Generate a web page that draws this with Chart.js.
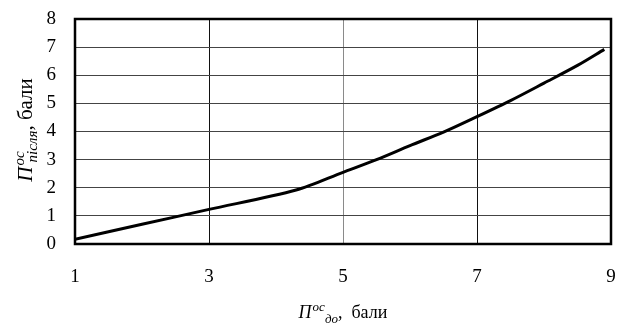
<!DOCTYPE html>
<html><head><meta charset="utf-8">
<script src="https://cdn.jsdelivr.net/npm/chart.js@4/dist/chart.umd.min.js"></script>
<style>html,body{margin:0;padding:0;background:#fff}#wrap{width:624px;height:324px}</style>
</head><body><div id="wrap"><canvas id="c" width="624" height="324"></canvas></div>
<script>
const xValues = [1, 2, 3, 4.3, 5, 5.5, 6, 6.5, 7, 7.5, 8, 8.5, 8.9];
const yValues = [0.17, 0.7, 1.23, 1.92, 2.55, 3.0, 3.5, 3.98, 4.53, 5.1, 5.72, 6.35, 6.92];
const xTicks = [1, 3, 5, 7, 9];
const yTicks = [0, 1, 2, 3, 4, 5, 6, 7, 8];
const F = '"Liberation Serif", "Times New Roman", serif';

const titles = {
  id: 'titles',
  afterDraw(chart) {
    const ctx = chart.ctx;
    const a = chart.chartArea;
    ctx.save();
    ctx.strokeStyle = '#000'; ctx.lineWidth = 2.5;
    ctx.strokeRect(a.left, a.top, a.right - a.left, a.bottom - a.top);
    ctx.fillStyle = '#000';
    ctx.textBaseline = 'alphabetic';
    const drawParts = (parts, x, y) => {
      let cx = x;
      parts.forEach(p => {
        ctx.font = p.f;
        ctx.fillText(p.t, cx, y + p.dy);
        cx += ctx.measureText(p.t).width + (p.gap || 0);
      });
    };
    const measure = parts => parts.reduce((s, p) => { ctx.font = p.f; return s + ctx.measureText(p.t).width + (p.gap || 0); }, 0);
    const xp = [
      {t: 'П', f: 'italic 18px ' + F, dy: 0, gap: 1},
      {t: 'ос', f: 'italic 13px ' + F, dy: -7},
      {t: 'до', f: 'italic 13px ' + F, dy: 5},
      {t: ',  бали', f: '18px ' + F, dy: 0}
    ];
    const wx = measure(xp);
    drawParts(xp, (a.left + a.right) / 2 - wx / 2, 318);
    const yp = [
      {t: 'П', f: 'italic 21px ' + F, dy: 0, gap: 1},
      {t: 'ос', f: 'italic 15px ' + F, dy: -8, gap: -11},
      {t: 'після', f: 'italic 15px ' + F, dy: 5},
      {t: ', бали', f: '21px ' + F, dy: 0}
    ];
    const wy = measure(yp);
    ctx.translate(32, 130 + wy / 2);
    ctx.rotate(-Math.PI / 2);
    drawParts(yp, 0, 0);
    ctx.restore();
  }
};

new Chart(document.getElementById('c'), {
  type: 'scatter',
  data: {
    datasets: [{
      data: xValues.map((x, i) => ({x, y: yValues[i]})),
      showLine: true,
      borderColor: '#000',
      borderWidth: 3,
      pointRadius: 0,
      tension: 0.3,
      fill: false
    }]
  },
  options: {
    responsive: false,
    animation: false,
    devicePixelRatio: 1,
    layout: {padding: {left: 0, right: 13, top: 19, bottom: 0}},
    plugins: {legend: {display: false}, tooltip: {enabled: false}},
    scales: {
      x: {
        type: 'linear', min: 1, max: 9,
        afterBuildTicks: s => { s.ticks = xTicks.map(v => ({value: v})); },
        afterFit: s => { s.height = 80; s.paddingLeft = 0; s.paddingRight = 0; },
        ticks: {font: {family: F, size: 19}, color: '#000', padding: 22, maxRotation: 0},
        grid: {drawTicks: false, color: c => (c.tick && c.tick.value === 5) ? '#8a8a8a' : '#111', lineWidth: 1},
        border: {display: false}
      },
      y: {
        type: 'linear', min: 0, max: 8,
        afterBuildTicks: s => { s.ticks = yTicks.map(v => ({value: v})); },
        afterFit: s => { s.width = 75; s.paddingTop = 0; s.paddingBottom = 0; },
        ticks: {font: {family: F, size: 19}, color: '#000', padding: 19},
        grid: {drawTicks: false, color: '#444', lineWidth: 1},
        border: {display: false}
      }
    }
  },
  plugins: [titles]
});
</script></body></html>
